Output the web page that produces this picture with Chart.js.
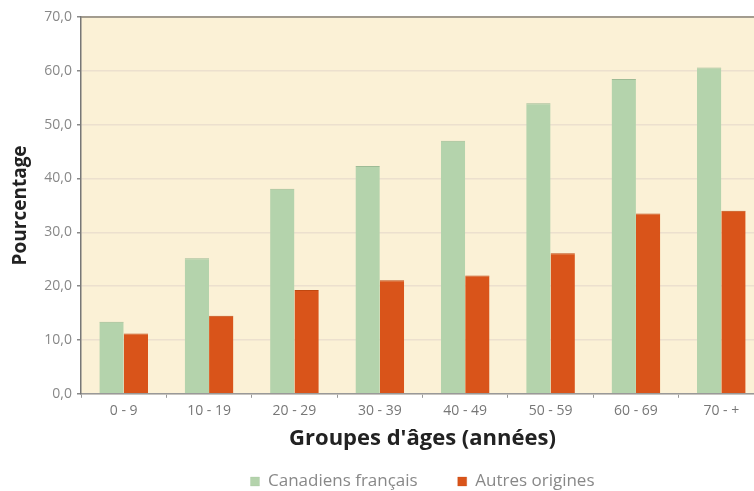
<!DOCTYPE html>
<html>
<head>
<meta charset="utf-8">
<script src="https://cdn.jsdelivr.net/npm/chart.js@4/dist/chart.umd.min.js"></script>
<style>
  html, body { margin: 0; padding: 0; background: #fff; overflow: hidden; }
  #wrap { width: 764px; height: 491px; }
</style>
</head>
<body>
<div id="wrap"><canvas id="ages"></canvas></div>
<script>
const groupes_ages = ['0 - 9', '10 - 19', '20 - 29', '30 - 39', '40 - 49', '50 - 59', '60 - 69', '70 - +']
const canadiens_francais = [13.4, 25.2, 38.1, 42.3, 47.0, 54.0, 58.5, 60.6]
const autres_origines = [11.2, 14.5, 19.3, 21.1, 22.0, 26.1, 33.5, 34.0]
const ticks_y = [0, 10, 20, 30, 40, 50, 60, 70]

const ages = document.getElementById('ages').getContext('2d');

// fond crème de la zone du graphique + bordure du haut
const fondZone = {
    id: 'fondZone',
    beforeDraw(chart) {
        const { ctx, chartArea: a } = chart;
        ctx.save();
        ctx.fillStyle = '#FBF1D6';
        ctx.fillRect(a.left, a.top, a.right - a.left, a.bottom - a.top);
        ctx.restore();
    },
    afterDraw(chart) {
        const { ctx, chartArea: a } = chart;
        ctx.save();
        ctx.strokeStyle = '#8a8478';
        ctx.lineWidth = 1.5;
        ctx.beginPath();
        ctx.moveTo(a.left, a.top);
        ctx.lineTo(a.right, a.top);
        ctx.stroke();
        ctx.restore();
    }
}

new Chart(ages, {
    type: 'bar',
    data: {
        labels: groupes_ages,
        datasets: [{
            label: 'Canadiens français',
            data: canadiens_francais,
            backgroundColor: '#B4D3AC',
            borderColor: '#9DBB95',
            borderWidth: { top: 1, left: 0, right: 0, bottom: 0 },
            categoryPercentage: 0.57,
            barPercentage: 1.0
        }, {
            label: 'Autres origines',
            data: autres_origines,
            backgroundColor: '#D9541A',
            borderColor: '#C04810',
            borderWidth: { top: 1, left: 0, right: 0, bottom: 0 },
            categoryPercentage: 0.57,
            barPercentage: 1.0
        }]
    },
    options: {
        responsive: true,
        maintainAspectRatio: false,
        animation: false,
        layout: { padding: { top: 17, right: 0, left: 0, bottom: -9 } },
        scales: {
            x: {
                grid: { display: true, drawOnChartArea: false, tickLength: 4, color: '#999' },
                border: { color: '#999', width: 1.5 },
                ticks: { color: '#777', font: { family: 'Open Sans', size: 14 }, padding: 5 },
                title: {
                    display: true,
                    text: "Groupes d'âges (années)",
                    color: '#222',
                    font: { family: 'Open Sans', size: 22, weight: 'bold' },
                    padding: { top: 1, bottom: -19 }
                }
            },
            y: {
                min: 0,
                max: 70,
                afterBuildTicks: (axis) => { axis.ticks = ticks_y.map(v => ({ value: v })) },
                afterFit: (axis) => { axis.width = 81 },
                grid: { color: '#ECE0CE', lineWidth: 1.5, tickLength: 4, tickColor: '#888' },
                border: { color: '#777', width: 1.5 },
                ticks: {
                    color: '#888',
                    font: { family: 'Open Sans', size: 14 },
                    padding: 5,
                    callback: (v) => v.toFixed(1).replace('.', ',')
                },
                title: {
                    display: true,
                    text: 'Pourcentage',
                    color: '#222',
                    font: { family: 'Open Sans', size: 19, weight: 'bold' },
                    padding: { top: 9, bottom: 0 }
                }
            }
        },
        plugins: {
            legend: {
                position: 'bottom',
                fullSize: false,
                labels: {
                    boxWidth: 9,
                    boxHeight: 9,
                    padding: 40,
                    color: '#888',
                    font: { family: 'Open Sans', size: 17 }
                }
            },
            tooltip: { enabled: false }
        }
    },
    plugins: [fondZone]
});
</script>
</body>
</html>
